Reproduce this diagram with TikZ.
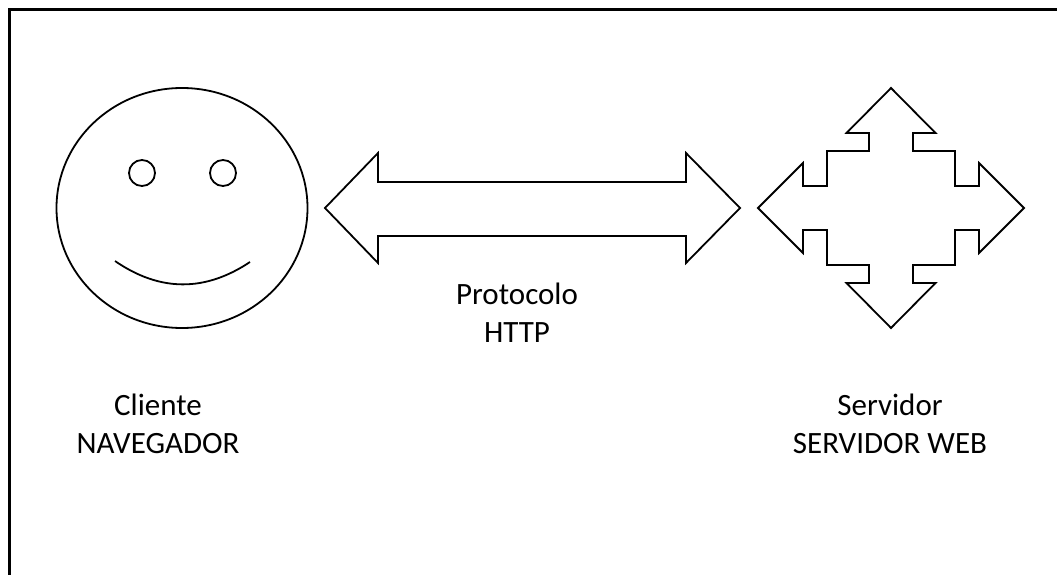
\documentclass[tikz,border=0pt]{standalone}
\usepackage{fontspec}
\setmainfont{Carlito}
\usetikzlibrary{positioning}

\begin{document}
\begin{tikzpicture}[x=1pt,y=-1pt,line join=miter,
    outline/.style={draw=black,line width=1.8pt},
    caption/.style={font=\fontsize{31}{38}\selectfont,align=center,inner sep=0pt}]
    \useasboundingbox (0,0) rectangle (1057,575);
    
    % Frame (open on the right and bottom)
    \draw[line width=3pt] (9.5,590) -- (9.5,9.5) -- (1070,9.5);
    
    % Client face
    \draw[outline] (182,208) ellipse [x radius=125.5, y radius=120];
    \draw[outline] (142,173) circle (13);
    \draw[outline] (223,173) circle (13);
    \draw[outline] (115,261) .. controls (160,292) and (205,292) .. (250,262);
    
    % Double arrow (protocol)
    \draw[outline] (325,208) -- (378,153) -- (378,182) -- (686,182) -- (686,153)
        -- (740,208) -- (686,263) -- (686,236) -- (378,236) -- (378,263) -- cycle;
    
    % Server: four-way arrow
    \draw[outline,shift={(891,208)}]
        (0,-120) -- (44.5,-75) -- (22,-75) -- (22,-57) -- (64,-57) -- (64,-22)
        -- (88,-22) -- (88,-45) -- (133,0) -- (88,45) -- (88,22) -- (64,22)
        -- (64,57) -- (22,57) -- (22,75) -- (44.5,75) -- (0,120) -- (-44.5,75)
        -- (-22,75) -- (-22,57) -- (-64,57) -- (-64,22) -- (-88,22) -- (-88,45)
        -- (-133,0) -- (-88,-45) -- (-88,-22) -- (-64,-22) -- (-64,-57)
        -- (-22,-57) -- (-22,-75) -- (-44.5,-75) -- cycle;
    
    % Labels
    \node[caption] (protocolo) at (517,313) {Protocolo\\HTTP};
    \node[caption] (cliente) at (158,424) {Cliente\\NAVEGADOR};
    \node[caption] (servidor) at (890,424) {Servidor\\SERVIDOR WEB};
\end{tikzpicture}
\end{document}
